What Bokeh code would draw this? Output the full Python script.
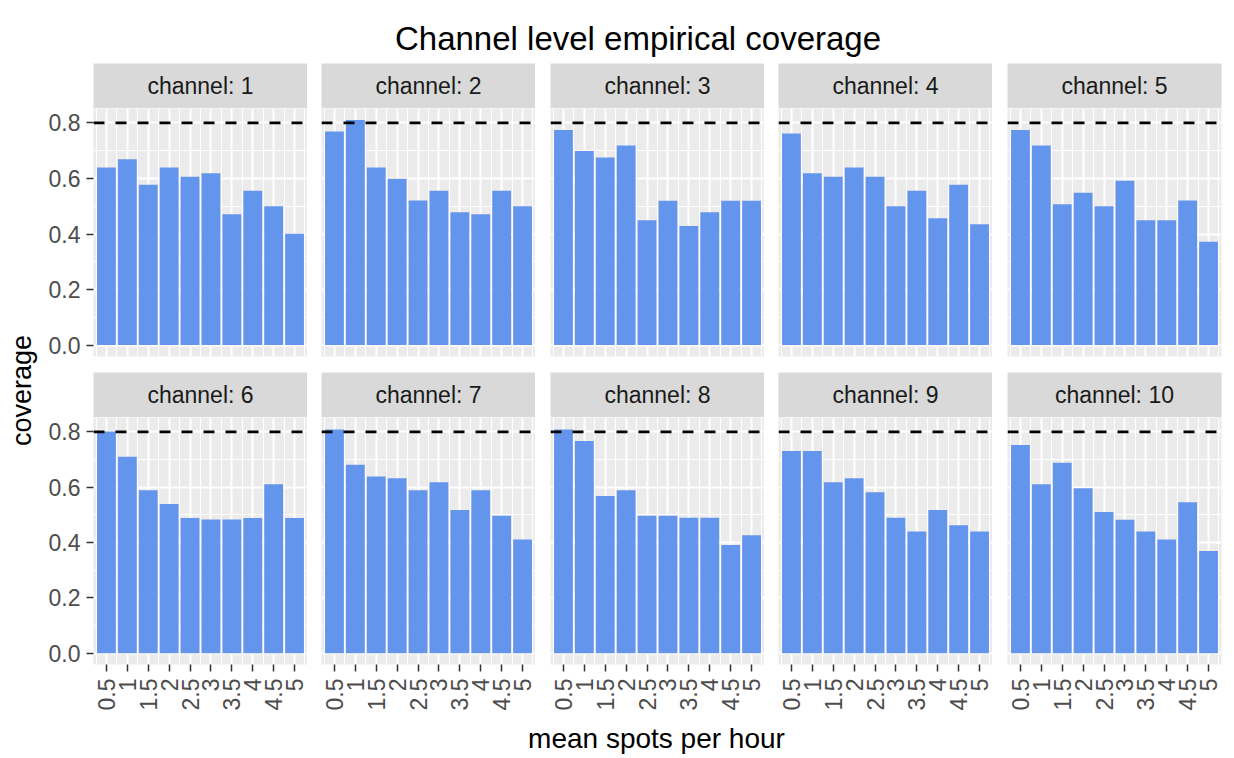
from math import pi
from bokeh.plotting import figure
from bokeh.layouts import row, column
from bokeh.models import Range1d, FixedTicker, Span, ColumnDataSource, CustomJSTickFormatter
from bokeh.core.properties import value
from bokeh.embed import file_html
from bokeh.resources import INLINE

# ---------------- data ----------------
title_text = "Channel level empirical coverage"
x_title = "mean spots per hour"
y_title = "coverage"
channels = ["channel: 1", "channel: 2", "channel: 3", "channel: 4", "channel: 5",
            "channel: 6", "channel: 7", "channel: 8", "channel: 9", "channel: 10"]
spots = [0.5, 1.0, 1.5, 2.0, 2.5, 3.0, 3.5, 4.0, 4.5, 5.0]
x_tick_labels = ["0.5", "1", "1.5", "2", "2.5", "3", "3.5", "4", "4.5", "5"]
y_ticks = [0.0, 0.2, 0.4, 0.6, 0.8]
y_tick_labels = ["0.0", "0.2", "0.4", "0.6", "0.8"]
target = 0.8

cov_ch1 = [0.640, 0.669, 0.577, 0.640, 0.606, 0.619, 0.471, 0.556, 0.500, 0.401]
cov_ch2 = [0.769, 0.811, 0.640, 0.599, 0.521, 0.556, 0.478, 0.471, 0.556, 0.500]
cov_ch3 = [0.775, 0.699, 0.676, 0.719, 0.450, 0.520, 0.429, 0.478, 0.520, 0.520]
cov_ch4 = [0.762, 0.619, 0.606, 0.640, 0.606, 0.500, 0.556, 0.457, 0.577, 0.435]
cov_ch5 = [0.775, 0.719, 0.507, 0.549, 0.500, 0.592, 0.450, 0.450, 0.521, 0.372]
cov_ch6 = [0.801, 0.710, 0.589, 0.539, 0.489, 0.483, 0.483, 0.489, 0.611, 0.489]
cov_ch7 = [0.809, 0.681, 0.639, 0.632, 0.589, 0.618, 0.518, 0.589, 0.497, 0.411]
cov_ch8 = [0.809, 0.767, 0.568, 0.589, 0.497, 0.497, 0.490, 0.490, 0.391, 0.426]
cov_ch9 = [0.731, 0.731, 0.618, 0.632, 0.582, 0.490, 0.440, 0.518, 0.462, 0.440]
cov_ch10 = [0.753, 0.611, 0.688, 0.596, 0.510, 0.482, 0.440, 0.411, 0.546, 0.369]
coverages = [cov_ch1, cov_ch2, cov_ch3, cov_ch4, cov_ch5,
             cov_ch6, cov_ch7, cov_ch8, cov_ch9, cov_ch10]

# ---------------- style / layout ----------------
FONT = "Liberation Sans"
BAR = "#6495ED"
PANEL_BG = "#EBEBEB"
STRIP_BG = "#D9D9D9"
FW = 214          # frame width of a panel
FH = 248          # frame height of a panel
STRIP_H = 45
YLAB_W = 44
TITLE_H = 63
TOP_GAP = 16
BOTTOM_AX = 48
XLAB_H = 44
LEFTS = [49, 14, 15, 14, 15]
TOTAL_W = YLAB_W + sum(LEFTS) + 5 * FW + 4
x_minor = [s - 0.25 for s in spots] + [spots[-1] + 0.25]
y_minor = [0.1, 0.3, 0.5, 0.7]


def lookup_formatter(ticks, labels):
    return CustomJSTickFormatter(
        args=dict(tv=ticks, lab=labels),
        code="let b=-1, d=1e9; for (let i=0;i<tv.length;i++){const e=Math.abs(tv[i]-tick); if(e<d){d=e;b=i;}} return (b>=0 && d<1e-9) ? lab[b] : String(tick);")


def blank_fig(w, h, xr, yr, bg="white"):
    f = figure(width=w, height=h, x_range=xr, y_range=yr,
               x_axis_location=None, y_axis_location=None,
               output_backend="svg", toolbar_location=None, tools="",
               min_border=0, min_border_left=0, min_border_right=0,
               min_border_top=0, min_border_bottom=0,
               background_fill_color=bg, border_fill_color="white",
               outline_line_color=None)
    f.grid.visible = False
    return f


def strip_fig(c, label):
    left = LEFTS[c]
    right = 4 if c == 4 else 0
    s = figure(width=left + FW + right, height=STRIP_H,
               x_range=Range1d(0, 1), y_range=Range1d(0, 1),
               x_axis_location=None, y_axis_location=None,
               output_backend="svg", toolbar_location=None, tools="",
               min_border=0, min_border_left=left, min_border_right=right,
               min_border_top=0, min_border_bottom=0,
               background_fill_color=STRIP_BG, border_fill_color="white",
               outline_line_color=None)
    s.grid.visible = False
    s.text(x=[0.5], y=[0.5], text=[label], text_align="center", text_baseline="middle",
           text_font=value(FONT), text_font_size="23px", text_color="#1A1A1A")
    return s


def panel_fig(idx, r, c):
    left = LEFTS[c]
    right = 4 if c == 4 else 0
    bottom = BOTTOM_AX if r == 1 else TOP_GAP
    p = figure(width=left + FW + right, height=FH + bottom,
               x_range=Range1d(0.19, 5.31), y_range=Range1d(-0.041, 0.852),
               x_axis_location="below" if r == 1 else None,
               y_axis_location="left" if c == 0 else None,
               output_backend="svg", toolbar_location=None, tools="",
               min_border=0, min_border_left=left, min_border_right=right,
               min_border_top=0, min_border_bottom=bottom,
               background_fill_color=PANEL_BG, border_fill_color="white",
               outline_line_color=None)
    p.xgrid.ticker = FixedTicker(ticks=spots, minor_ticks=x_minor)
    p.ygrid.ticker = FixedTicker(ticks=y_ticks, minor_ticks=y_minor)
    for g in (p.xgrid, p.ygrid):
        g.grid_line_color = "white"
        g.grid_line_width = 2
        g.minor_grid_line_color = "white"
        g.minor_grid_line_width = 1

    src = ColumnDataSource(dict(x=spots, top=coverages[idx]))
    p.vbar(x="x", top="top", bottom=0, width=0.45, source=src,
           fill_color=BAR, line_color=None)
    p.add_layout(Span(location=target, dimension="width", line_color="black",
                      line_width=2.7, line_dash="11 11"))

    axes = []
    if r == 1:
        ax = p.xaxis[0]
        ax.ticker = FixedTicker(ticks=spots)
        ax.formatter = lookup_formatter(spots, x_tick_labels)
        ax.major_label_orientation = pi / 2
        ax.major_label_standoff = 7
        axes.append(ax)
    if c == 0:
        ay = p.yaxis[0]
        ay.ticker = FixedTicker(ticks=y_ticks)
        ay.formatter = lookup_formatter(y_ticks, y_tick_labels)
        ay.major_label_standoff = 6
        axes.append(ay)
    for a in axes:
        a.axis_line_color = None
        a.major_tick_line_color = "#333333"
        a.major_tick_line_width = 1.5
        a.major_tick_out = 7
        a.major_tick_in = 0
        a.minor_tick_line_color = None
        a.major_label_text_font = FONT
        a.major_label_text_font_size = "23px"
        a.major_label_text_color = "#4D4D4D"
    return p


# title
title_fig = blank_fig(TOTAL_W, TITLE_H, Range1d(0, TITLE_H * 0 + TOTAL_W), Range1d(0, TITLE_H))
title_fig.text(x=[637.5], y=[25.5], text=[title_text], text_align="center",
               text_baseline="alphabetic", text_font=value(FONT),
               text_font_size="33px", text_color="black")

rows = []
for r in range(2):
    rows.append(row(*[strip_fig(c, channels[r * 5 + c]) for c in range(5)]))
    rows.append(row(*[panel_fig(r * 5 + c, r, c) for c in range(5)]))
grid_col = column(*rows)
GRID_H = STRIP_H * 2 + (FH + TOP_GAP) + (FH + BOTTOM_AX)

ylab = blank_fig(YLAB_W, GRID_H, Range1d(0, YLAB_W), Range1d(0, GRID_H))
ylab.text(x=[21], y=[GRID_H - 327], text=[y_title], angle=pi / 2, text_align="center",
          text_baseline="alphabetic", text_font=value(FONT),
          text_font_size="27px", text_color="black")

xlab = blank_fig(TOTAL_W, XLAB_H, Range1d(0, TOTAL_W), Range1d(0, XLAB_H))
xlab.text(x=[656], y=[XLAB_H / 2 - 3], text=[x_title], text_align="center",
          text_baseline="middle", text_font=value(FONT),
          text_font_size="28px", text_color="black")

layout = column(title_fig, row(ylab, grid_col), xlab)

open("out.html", "w").write(file_html(layout, INLINE))
